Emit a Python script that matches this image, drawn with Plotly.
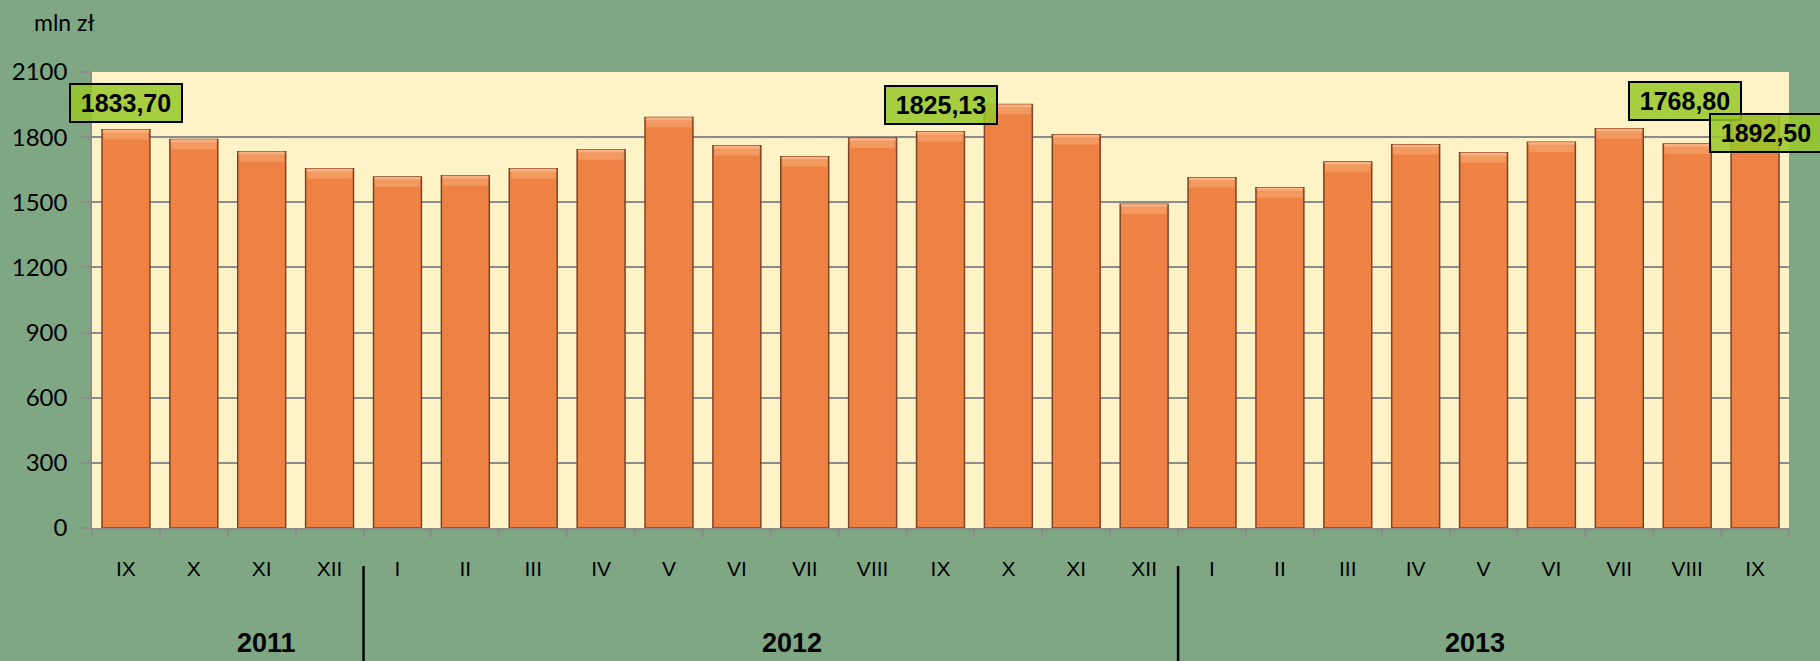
import plotly.graph_objects as go

months = ["IX", "X", "XI", "XII", "I", "II", "III", "IV", "V", "VI", "VII", "VIII",
          "IX", "X", "XI", "XII", "I", "II", "III", "IV", "V", "VI", "VII", "VIII", "IX"]
values = [1833.70, 1789, 1733, 1654, 1617, 1622, 1654, 1742, 1890, 1760, 1710, 1795,
          1825.13, 1950, 1811, 1491, 1613, 1567, 1686, 1765, 1728, 1777, 1839, 1768.80, 1892.50]
years = ["2011", "2012", "2013"]
year_pos = [0.103, 0.4126, 0.8150]          # paper x of year captions
year_breaks = [3.5, 15.5]                   # category boundaries between years
labelled = [0, 12, 23, 24]                  # bars with value boxes
label_shift = [(0, 27), (0, 27), (-2, 43), (11, -16)]
y_ticks = [0, 300, 600, 900, 1200, 1500, 1800, 2100]

x = list(range(len(values)))
BEVEL = 45

fig = go.Figure()
fig.add_trace(go.Bar(
    x=x, y=values, marker=dict(color="#EE8245", line=dict(color="#7E4525", width=1.5)),
    hoverinfo="skip", showlegend=False))
fig.add_trace(go.Bar(
    x=x, y=[BEVEL] * len(values), base=[v - BEVEL for v in values],
    marker=dict(color="#F39A60", line=dict(color="#7E4525", width=0)),
    hoverinfo="skip", showlegend=False, width=0.66))
fig.add_trace(go.Bar(
    x=x, y=[12] * len(values), base=[v - 12 for v in values],
    marker=dict(color="#F8B182", line=dict(width=0)),
    hoverinfo="skip", showlegend=False, width=0.68))

annotations = []
for i, (dx, dy) in zip(labelled, label_shift):
    txt = f"{values[i]:.2f}".replace(".", ",")
    annotations.append(dict(
        x=i, y=values[i], xref="x", yref="y", text=txt, showarrow=False,
        xshift=dx, yshift=dy, yanchor="middle", xanchor="center",
        font=dict(family="Arial, Liberation Sans", size=25, color="black", weight="bold"),
        bgcolor="rgba(150,200,40,0.85)", bordercolor="black", borderwidth=2,
        borderpad=1, width=108, height=34))
for yr, px in zip(years, year_pos):
    annotations.append(dict(
        x=px, y=-0.252, xref="paper", yref="paper", text=f"<b>{yr}</b>", showarrow=False,
        xanchor="center", yanchor="middle",
        font=dict(family="Arial, Liberation Sans", size=27, color="black")))
annotations.append(dict(
    x=-0.0353, y=1.1096, xref="paper", yref="paper", text="mln zł", showarrow=False,
    xanchor="left", yanchor="middle", font=dict(family="Lato", size=23, color="black")))

shapes = [dict(type="line", xref="x", yref="paper", x0=b, x1=b, y0=-0.0833, y1=-0.30,
               line=dict(color="black", width=2.5)) for b in year_breaks]

fig.update_layout(
    width=1820, height=661,
    margin=dict(l=90, r=31, t=72, b=133),
    paper_bgcolor="#7FA784", plot_bgcolor="#FEF2C7",
    barmode="overlay", bargap=0.294,
    annotations=annotations, shapes=shapes,
    xaxis=dict(
        range=[-0.5, len(values) - 0.5], tickmode="array", tickvals=x, ticktext=months,
        ticks="", ticklabelstandoff=21, showgrid=False, zeroline=False,
        showline=True, linecolor="#8C8C8C", linewidth=1.5,
        tickfont=dict(family="Arial, Liberation Sans", size=21, color="black"),
        minor=dict(tickmode="linear", tick0=-0.5, dtick=1, ticks="outside",
                   ticklen=7, tickcolor="#8C8C8C", tickwidth=1.5, showgrid=False)),
    yaxis=dict(
        range=[0, 2100], tickmode="array", tickvals=y_ticks,
        ticks="outside", ticklen=9, tickcolor="#8C8C8C", tickwidth=1.5,
        ticklabelstandoff=9,
        showgrid=True, gridcolor="#8C8C8C", gridwidth=2, zeroline=False,
        showline=True, linecolor="#8C8C8C", linewidth=1.5,
        tickfont=dict(family="Lato", size=24, color="black")),
)

fig.write_html("out.html", config={"displayModeBar": False},
               post_script="document.body.style.margin='0';")
